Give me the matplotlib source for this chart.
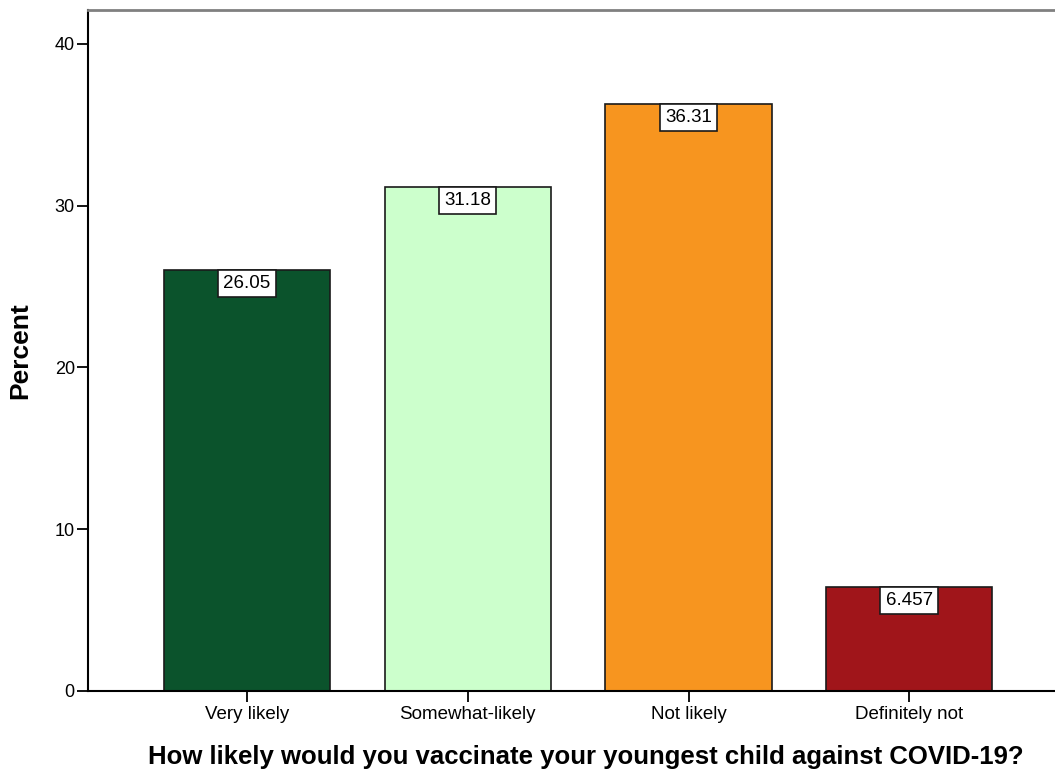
import matplotlib.pyplot as plt

plt.rcParams['font.family'] = ['Liberation Sans', 'DejaVu Sans']

categories = ["Very likely", "Somewhat-likely", "Not likely", "Definitely not"]
percents = [26.05, 31.18, 36.31, 6.457]
labels = ["26.05", "31.18", "36.31", "6.457"]
colors = ["#0b532c", "#ccffcc", "#f7951f", "#a0151a"]

fig = plt.figure(figsize=(10.55, 7.71), dpi=100)
ax = fig.add_axes([0.0834, 0.1038, 0.9166, 0.8832])

x = range(len(categories))
ax.bar(x, percents, width=0.752, color=colors, edgecolor="#1a1a1a", linewidth=1.2, zorder=2)

# value boxes hang from the top edge of each bar
fs = 13.5
pad = 0.28
for xi, v, lab in zip(x, percents, labels):
    ax.annotate(lab, (xi, v), xytext=(0, -pad * fs), textcoords="offset points",
                ha="center", va="top", fontsize=fs,
                bbox=dict(boxstyle=f"square,pad={pad}", fc="white", ec="#1a1a1a", lw=1.2))

ax.set_xlim(-0.72, 3.66)
ax.set_ylim(0, 42.1)
ax.set_yticks([0, 10, 20, 30, 40])
ax.set_xticks(list(x))
ax.set_xticklabels(categories)
ax.tick_params(axis="both", labelsize=13.5, length=8, width=1.3, color="black", pad=2.5)
ax.tick_params(axis="y", labelsize=13, pad=1.5)

for s in ["left", "bottom"]:
    ax.spines[s].set_linewidth(1.5)
    ax.spines[s].set_color("black")
ax.spines["right"].set_visible(False)
ax.spines["top"].set_color("#808080")
ax.spines["top"].set_linewidth(2)

ax.set_ylabel("Percent", fontsize=19, fontweight="bold")
ax.yaxis.set_label_coords(-0.058, 0.5)
ax.set_xlabel("How likely would you vaccinate your youngest child against COVID-19?",
              fontsize=18.5, fontweight="bold")
ax.xaxis.set_label_coords(0.515, -0.079)

fig.savefig("out.png", dpi=100)
